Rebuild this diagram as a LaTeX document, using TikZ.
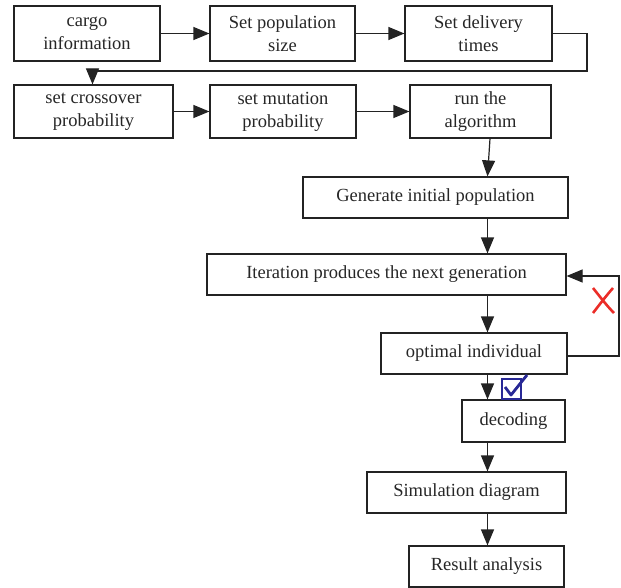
\documentclass[tikz,border=0pt]{standalone}
\usepackage{fontspec}
\setmainfont{Liberation Serif}
\usetikzlibrary{arrows.meta,calc}
\definecolor{linec}{RGB}{35,35,35}
\definecolor{chkblue}{RGB}{40,40,150}
\definecolor{xred}{RGB}{235,45,40}
\begin{document}
\begin{tikzpicture}[x=1pt,y=-1pt,
  box/.style={draw=linec,line width=1.2pt,rectangle,inner sep=0pt,align=center,font=\fontsize{18.5}{23}\selectfont,text=black!85},
  conn/.style={draw=linec,line width=1.2pt,-{Triangle[length=16pt,width=13pt]}},
  plain/.style={draw=linec,line width=1.2pt}]
\useasboundingbox (0,0) rectangle (621,588);
\newcommand{\bx}[6]{\node[box,minimum width={#4-#2},minimum height={#5-#3}] (#1) at ({(#2+#4)/2},{(#3+#5)/2}) {#6};}
\bx{cargo}{14}{6}{160}{61}{cargo\\information}
\bx{setpop}{210}{6}{355}{61}{Set population\\size}
\bx{deliv}{405}{6}{552}{61}{Set delivery\\times}
\bx{cross}{14}{85}{173}{138}{set crossover\\probability}
\bx{mut}{210}{85}{356}{138}{set mutation\\probability}
\bx{run}{410}{85}{551}{138}{run the\\algorithm}
\bx{gen}{303}{177}{568}{218}{Generate initial population}
\bx{iter}{207}{254}{566}{295}{Iteration produces the next generation}
\bx{opt}{381}{333}{567}{374}{optimal individual}
\bx{dec}{462}{400}{565}{442}{decoding}
\bx{sim}{367}{472}{566}{513}{Simulation diagram}
\bx{res}{409}{546}{564}{587}{Result analysis}
\coordinate (ax) at (487.5,0);
\coordinate (rx) at (490,0);
\coordinate (lx) at (92.5,0);
\coordinate (wr) at (587,71);
\coordinate (lp) at (619,0);
% row 1
\draw[conn] (cargo) -- (setpop);
\draw[conn] (setpop) -- (deliv);
\draw[conn] (deliv.east) -- (deliv.east -| wr) -- (wr) -- (wr -| lx) -- (cross.north -| lx);
% row 2
\draw[conn] (cross) -- (mut);
\draw[conn] (mut) -- (run);
\draw[conn] (run.south -| rx) -- (gen.north -| ax);
\draw[conn] (gen.south -| ax) -- (iter.north -| ax);
\draw[conn] (iter.south -| ax) -- (opt.north -| ax);
\draw[conn] (opt.south -| ax) -- (dec.north -| ax);
\draw[conn] (dec.south -| ax) -- (sim.north -| ax);
\draw[conn] (sim.south -| ax) -- (res.north -| ax);
% loop back
\draw[conn] (opt.east |- 0,356) -- (lp |- 0,356) -- (lp |- 0,276) -- (iter.east |- 0,276);
% red X
\draw[xred,line width=2.6pt] (593,288) .. controls (601,298) and (607,306) .. (614,313);
\draw[xred,line width=2.6pt] (613,288) .. controls (606,296) and (600,304) .. (593,313);
% blue check box
\draw[chkblue,line width=2.4pt] (502,379) rectangle (521,399);
\draw[chkblue,line width=2.8pt,line join=round] (505,387) -- (511,395) -- (527,375);
\end{tikzpicture}
\end{document}
